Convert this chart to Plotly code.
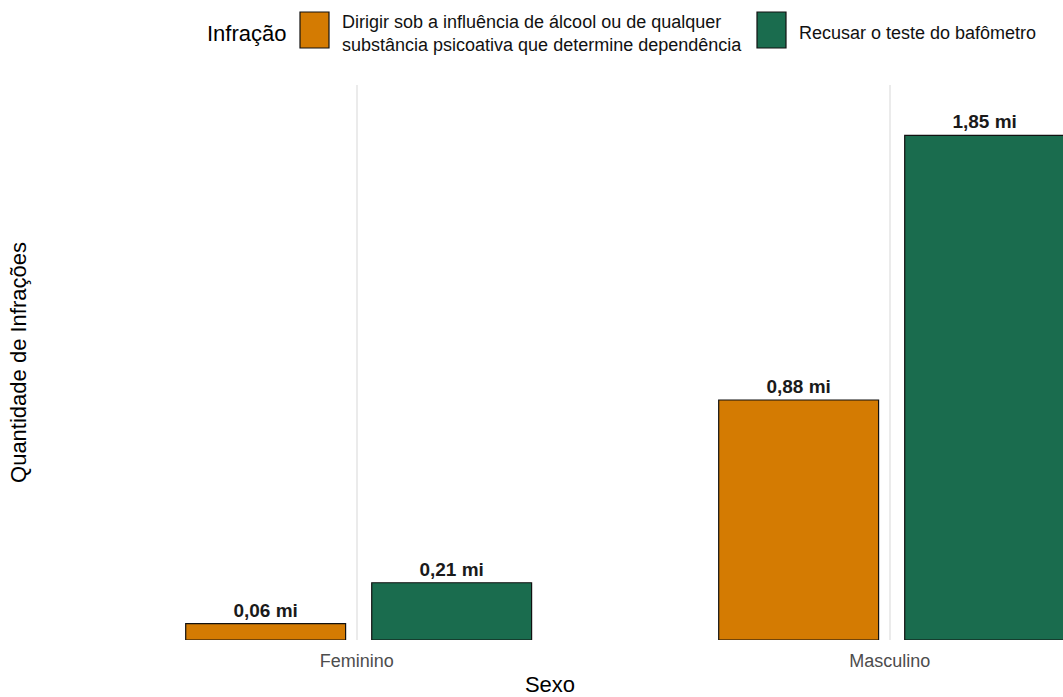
import plotly.graph_objects as go

# Data (values in millions)
categories = ["Feminino", "Masculino"]
series_names = [
    "Dirigir sob a influência de álcool ou de qualquer<br>substância psicoativa que determine dependência",
    "Recusar o teste do bafômetro",
]
alcool_values = [0.06, 0.88]
recusa_values = [0.21, 1.85]
legend_title = "Infração"

colors = ["#D47B02", "#1A6C4E"]
FONT = "Liberation Sans, Arial, sans-serif"

W, H = 1063, 697
ML, MR, MT, MB = 37, 0, 85, 57
PW, PH = W - ML - MR, H - MT - MB


def px_x(px):
    return (px - ML) / PW


def px_y(py):
    return (H - MB - py) / PH


def fmt(v):
    return "<b>" + f"{v:.2f}".replace(".", ",") + " mi</b>"


fig = go.Figure()
for name, vals, col, off in [
    (series_names[0], alcool_values, colors[0], -0.321),
    (series_names[1], recusa_values, colors[1], 0.028),
]:
    fig.add_trace(
        go.Bar(
            x=categories,
            y=vals,
            name=name.replace("<br>", " "),
            width=0.3,
            offset=off,
            marker=dict(color=col, line=dict(color="#111111", width=1.2)),
            text=[fmt(v) for v in vals],
            textposition="outside",
            textfont=dict(family=FONT, size=19, color="#1a1a1a"),
            constraintext="none",
            cliponaxis=False,
            showlegend=False,
        )
    )

# Custom legend (large keys, like the reference)
shapes = []
annotations = [
    dict(text=legend_title, xref="paper", yref="paper", x=px_x(289), y=px_y(33),
         xanchor="right", yanchor="middle", showarrow=False,
         font=dict(size=22, family=FONT, color="#000000")),
]
key_boxes = [(300, 329), (757, 786)]
text_left = [342, 799]
for (x0, x1), tl, col, name in zip(key_boxes, text_left, colors, series_names):
    shapes.append(dict(type="rect", xref="paper", yref="paper",
                       x0=px_x(x0), x1=px_x(x1), y0=px_y(48), y1=px_y(12),
                       fillcolor=col, line=dict(color="#111111", width=1.2)))
    annotations.append(dict(text=name, xref="paper", yref="paper", x=px_x(tl - 2), y=px_y(33),
                            xanchor="left", yanchor="middle", align="left", showarrow=False,
                            font=dict(size=18, family=FONT, color="#111111")))

fig.update_layout(
    width=W,
    height=H,
    margin=dict(l=ML, r=MR, t=MT, b=MB),
    paper_bgcolor="white",
    plot_bgcolor="white",
    barmode="group",
    showlegend=False,
    font=dict(family=FONT, color="#000000"),
    shapes=shapes,
    annotations=annotations,
    xaxis=dict(
        type="category",
        categoryorder="array",
        categoryarray=categories,
        range=[-0.6, 1.325],
        showgrid=True,
        gridcolor="#EBEBEB",
        gridwidth=1.5,
        zeroline=False,
        showline=False,
        ticks="",
        ticklabelstandoff=8,
        tickfont=dict(size=18, color="#4D4D4D", family=FONT),
        title=dict(text="Sexo", font=dict(size=22, family=FONT), standoff=11),
        automargin=False,
    ),
    yaxis=dict(
        range=[0, 2.035],
        showgrid=False,
        zeroline=False,
        showline=False,
        showticklabels=False,
        ticks="",
        title=dict(text="Quantidade de Infrações", font=dict(size=22, family=FONT), standoff=3),
        automargin=False,
    ),
)

fig.write_html(
    "out.html",
    config={"displayModeBar": False},
    post_script="document.body.style.margin='0px';",
)
